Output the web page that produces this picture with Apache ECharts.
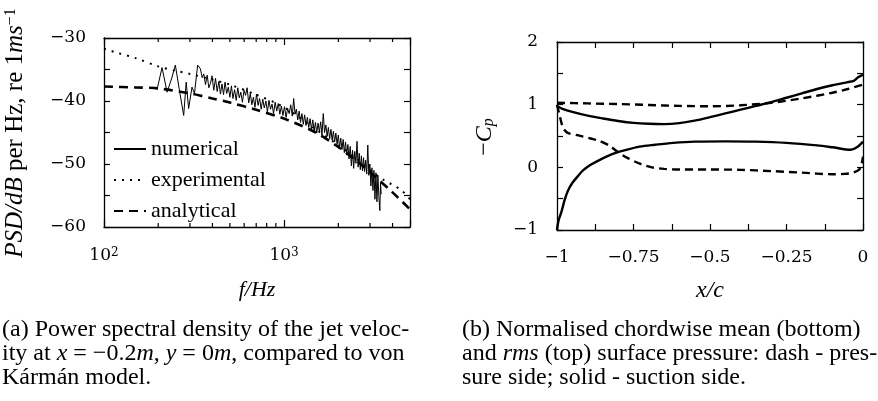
<!DOCTYPE html>
<html>
<head>
<meta charset="utf-8">
<script src="https://cdn.jsdelivr.net/npm/echarts@6/dist/echarts.min.js"></script>
<style>
html, body { margin: 0; padding: 0; background: #fff; }
#chart { width: 878px; height: 401px; }
</style>
</head>
<body>
<div id="chart"></div>
<script>
// ---------- Panel (a): PSD of the jet velocity, [frequency Hz, dB] ----------
const numerical = [
  [197,-38.2],[210,-34.7],[224,-38.6],[237,-36.5],[249,-34.3],[263,-38.5],[277,-42.3],[286,-37.0],
  [295,-41.2],[308,-37.8],[318,-38.8],[331,-34.3],[343,-34.9],[351,-36.3],[358,-35.7],[366,-37.4],
  [374,-35.9],[382,-37.9],[390,-37.2],[398,-36.0],[407,-38.3],[416,-36.4],[425,-38.5],[434,-36.9],
  [443,-38.9],[452,-37.3],[461,-39.0],[470,-37.0],[480,-38.8],[490,-37.8],[500,-39.4],[510,-37.6],
  [520,-39.6],[531,-38.2],[542,-39.9],[553,-37.9],[564,-39.5],[575,-38.6],[587,-40.2],[599,-38.3],
  [611,-39.1],[623,-37.9],[636,-40.3],[649,-38.8],[662,-40.6],[675,-39.4],[689,-41.0],[703,-38.9],
  [717,-40.7],[731,-39.6],[746,-41.3],[761,-39.7],[776,-41.1],[792,-40.0],[808,-41.7],[824,-39.9],
  [840,-41.3],[857,-40.5],[874,-42.0],[892,-40.2],[910,-41.6],[928,-40.4],[947,-42.1],[966,-40.8],
  [985,-42.3],[1005,-40.9],[1025,-42.6],[1046,-41.2],[1067,-42.0],[1088,-40.6],[1110,-42.4],[1130,-39.6],
  [1150,-42.1],[1170,-41.3],[1190,-43.0],[1212,-41.6],[1234,-43.4],[1256,-42.0],[1278,-43.7],[1300,-42.2],
  [1323,-43.9],[1346,-42.6],[1370,-44.2],[1394,-42.8],[1418,-44.5],[1443,-43.0],[1468,-44.8],[1493,-43.4],
  [1518,-45.1],[1544,-43.5],[1570,-44.9],[1596,-43.3],[1623,-45.4],[1650,-42.0],[1677,-45.0],[1705,-43.8],
  [1733,-45.6],[1761,-44.2],[1790,-46.0],[1819,-44.5],[1848,-46.2],[1878,-44.8],[1908,-46.5],[1938,-45.1],
  [1969,-46.9],[2000,-45.4],[2031,-47.4],[2063,-45.9],[2095,-47.7],[2127,-46.1],[2160,-48.2],[2193,-46.5],
  [2226,-48.6],[2260,-46.9],[2294,-49.2],[2328,-47.2],[2363,-50.3],[2398,-47.8],[2433,-50.7],[2468,-48.0],
  [2504,-49.9],[2540,-46.4],[2576,-50.5],[2612,-48.3],[2649,-50.9],[2686,-48.7],[2723,-51.1],[2761,-49.0],
  [2799,-51.2],[2837,-49.4],[2876,-51.6],[2915,-47.0],[2954,-51.8],[2993,-50.0],[3033,-53.5],[3073,-50.6],
  [3113,-54.2],[3153,-51.0],[3194,-55.6],[3235,-51.4],[3276,-56.0],[3317,-51.8],[3358,-55.2],[3400,-57.4],
  [3430,-53.0],[3460,-54.8]
];
const experimental = [
  [100,-31.7],[120,-32.4],[150,-33.2],[200,-34.5],[250,-35.2],[300,-35.7],[400,-36.6],[500,-37.4],
  [700,-39.0],[1000,-41.0],[1500,-44.5],[2000,-47.0],[2500,-49.0],[3000,-51.0],[3600,-52.6],[4000,-53.3],
  [4500,-54.2],[5000,-55.6]
];
const analytical = [
  [100,-37.7],[150,-37.85],[200,-38.0],[300,-38.8],[400,-39.6],[500,-40.25],[700,-41.4],[1000,-42.8],
  [1500,-45.0],[2000,-47.3],[2500,-49.4],[3000,-51.3],[4000,-54.5],[5000,-57.2]
];
const freqRange = [100, 5000];
const psdRange = [-60, -30];
const decadeLabels = { 100: '{n|10}{s|2}', 1000: '{n|10}{s|3}' };
const minorFreqTicks = [200,300,400,500,600,700,800,900,2000,3000,4000];

// ---------- Panel (b): surface pressure coefficient, [x/c, -Cp] ----------
const suctionRms = [
  [-1,0.98],[-0.98,0.93],[-0.95,0.885],[-0.9,0.825],[-0.85,0.78],[-0.8,0.74],[-0.75,0.71],[-0.7,0.695],
  [-0.65,0.69],[-0.6,0.705],[-0.55,0.745],[-0.5,0.80],[-0.45,0.86],[-0.4,0.92],[-0.35,0.98],[-0.3,1.04],
  [-0.25,1.11],[-0.2,1.18],[-0.15,1.25],[-0.1,1.31],[-0.05,1.36],[-0.03,1.38],[-0.015,1.44],[0,1.48]
];
const pressureRms = [
  [-1,1.03],[-0.9,1.02],[-0.8,1.01],[-0.7,0.995],[-0.6,0.98],[-0.5,0.975],[-0.4,0.99],[-0.3,1.03],
  [-0.2,1.1],[-0.1,1.19],[-0.05,1.25],[0,1.32]
];
const suctionMean = [
  [-1,-1],[-0.995,-0.85],[-0.986,-0.72],[-0.975,-0.52],[-0.965,-0.38],[-0.95,-0.25],[-0.93,-0.13],
  [-0.915,-0.05],[-0.89,0.04],[-0.86,0.12],[-0.82,0.21],[-0.78,0.27],[-0.73,0.33],[-0.68,0.36],
  [-0.62,0.39],[-0.55,0.41],[-0.45,0.415],[-0.35,0.41],[-0.25,0.39],[-0.15,0.35],[-0.1,0.32],
  [-0.04,0.28],[-0.02,0.32],[0,0.41]
];
const pressureMean = [
  [-1,1.0],[-0.99,0.8],[-0.98,0.63],[-0.965,0.55],[-0.93,0.51],[-0.89,0.46],[-0.86,0.42],[-0.83,0.35],
  [-0.8,0.24],[-0.77,0.15],[-0.73,0.06],[-0.69,0.0],[-0.65,-0.025],[-0.6,-0.035],[-0.5,-0.035],
  [-0.4,-0.04],[-0.3,-0.06],[-0.2,-0.085],[-0.1,-0.11],[-0.06,-0.105],[-0.03,-0.08],[-0.01,-0.02],[0,0.17]
];
const chordRange = [-1, 0];
const cpRange = [-1, 2];

// ---------- styling ----------
const FONT = 'Liberation Serif';
const TICK_FONT = 'DejaVu Serif';
const INK = '#000';
const minus = v => String(v).replace('-', '\u2212');

function frameAxis(extra) {
  return Object.assign({
    axisLine: { show: true, onZero: false, lineStyle: { color: INK, width: 1.3 } },
    axisTick: { show: true, inside: true, length: 6, lineStyle: { color: INK, width: 1.2 } },
    splitLine: { show: false },
    axisLabel: { show: false }
  }, extra);
}
const tickFont = { color: INK, fontFamily: TICK_FONT, fontSize: 17 };

// minor ticks on the logarithmic frequency axis, drawn top and bottom
function logMinorTick(params, api) {
  const f = api.value(0);
  const b = api.coord([f, psdRange[0]]);
  const t = api.coord([f, psdRange[1]]);
  const st = { stroke: INK, lineWidth: 1.2 };
  return {
    type: 'group',
    children: [
      { type: 'line', shape: { x1: b[0], y1: b[1], x2: b[0], y2: b[1] - 4 }, style: st },
      { type: 'line', shape: { x1: t[0], y1: t[1], x2: t[0], y2: t[1] + 4 }, style: st }
    ]
  };
}

const chart = echarts.init(document.getElementById('chart'), null, { renderer: 'canvas' });

chart.setOption({
  animation: false,
  backgroundColor: '#fff',
  grid: [
    { left: 104, top: 38, width: 306, height: 189, containLabel: false },
    { left: 557, top: 42, width: 306, height: 188, containLabel: false }
  ],
  xAxis: [
    frameAxis({
      gridIndex: 0, type: 'log', logBase: 10, position: 'bottom',
      min: freqRange[0], max: freqRange[1],
      axisTick: { show: true, inside: true, length: 7, lineStyle: { color: INK, width: 1.2 } },
      axisLabel: Object.assign({
        show: true, margin: 20,
        formatter: v => decadeLabels[Math.round(v)] || '',
        rich: {
          n: { fontFamily: TICK_FONT, fontSize: 17, color: INK },
          s: { fontFamily: TICK_FONT, fontSize: 12, color: INK, verticalAlign: 'top' }
        }
      }, tickFont)
    }),
    frameAxis({
      gridIndex: 0, type: 'log', logBase: 10, position: 'top',
      min: freqRange[0], max: freqRange[1],
      axisTick: { show: true, inside: true, length: 7, lineStyle: { color: INK, width: 1.2 } }
    }),
    frameAxis({
      gridIndex: 1, type: 'value', position: 'bottom',
      min: chordRange[0], max: chordRange[1], interval: 0.125,
      axisLabel: Object.assign({
        show: true, margin: 19,
        formatter: v => (Math.abs(v * 4 - Math.round(v * 4)) < 1e-6 ? minus(v) : '')
      }, tickFont)
    }),
    frameAxis({
      gridIndex: 1, type: 'value', position: 'top',
      min: chordRange[0], max: chordRange[1], interval: 0.125
    })
  ],
  yAxis: [
    frameAxis({
      gridIndex: 0, type: 'value', position: 'left',
      min: psdRange[0], max: psdRange[1], interval: 5,
      axisLabel: Object.assign({ show: true, margin: 18, formatter: v => (v % 10 === 0 ? minus(v) : '') }, tickFont)
    }),
    frameAxis({
      gridIndex: 0, type: 'value', position: 'right',
      min: psdRange[0], max: psdRange[1], interval: 5
    }),
    frameAxis({
      gridIndex: 1, type: 'value', position: 'left',
      min: cpRange[0], max: cpRange[1], interval: 0.5,
      axisLabel: Object.assign({ show: true, margin: 19, formatter: v => (Number.isInteger(v) ? minus(v) : '') }, tickFont)
    }),
    frameAxis({
      gridIndex: 1, type: 'value', position: 'right',
      min: cpRange[0], max: cpRange[1], interval: 0.5
    })
  ],
  legend: {
    orient: 'vertical', left: 108, top: 133,
    itemWidth: 32, itemHeight: 14, itemGap: 9,
    itemStyle: { opacity: 0 },
    textStyle: { color: INK, fontFamily: FONT, fontSize: 22, lineHeight: 22 },
    data: ['numerical', 'experimental', 'analytical']
  },
  series: [
    {
      name: 'analytical', type: 'line', xAxisIndex: 0, yAxisIndex: 0, data: analytical,
      showSymbol: false, symbol: 'none', smooth: 0.3,
      lineStyle: { color: INK, width: 2.6, type: [9, 6] }, itemStyle: { color: INK }
    },
    {
      name: 'experimental', type: 'line', xAxisIndex: 0, yAxisIndex: 0, data: experimental,
      showSymbol: false, symbol: 'none', smooth: 0.3,
      lineStyle: { color: INK, width: 2, type: [2, 6] }, itemStyle: { color: INK }
    },
    {
      name: 'numerical', type: 'line', xAxisIndex: 0, yAxisIndex: 0, data: numerical,
      showSymbol: false, symbol: 'none',
      lineStyle: { color: INK, width: 1 }, itemStyle: { color: INK }
    },
    {
      type: 'custom', xAxisIndex: 0, yAxisIndex: 0, silent: true,
      data: minorFreqTicks.map(f => [f, psdRange[0]]),
      renderItem: logMinorTick
    },
    {
      type: 'line', xAxisIndex: 2, yAxisIndex: 2, data: suctionRms,
      showSymbol: false, symbol: 'none', smooth: 0.3,
      lineStyle: { color: INK, width: 2.4 }
    },
    {
      type: 'line', xAxisIndex: 2, yAxisIndex: 2, data: suctionMean,
      showSymbol: false, symbol: 'none', smooth: 0.3,
      lineStyle: { color: INK, width: 2.4 }
    },
    {
      type: 'line', xAxisIndex: 2, yAxisIndex: 2, data: pressureRms,
      showSymbol: false, symbol: 'none', smooth: 0.3,
      lineStyle: { color: INK, width: 2.4, type: [8, 5] }
    },
    {
      type: 'line', xAxisIndex: 2, yAxisIndex: 2, data: pressureMean,
      showSymbol: false, symbol: 'none', smooth: 0.3,
      lineStyle: { color: INK, width: 2.4, type: [8, 5] }
    }
  ],
  graphic: [
    {
      type: 'text', x: 15, y: 133, rotation: Math.PI / 2,
      style: {
        text: '{i|PSD/dB} per Hz, re 1{i|ms}{s|\u22121}',
        fontFamily: FONT, fontSize: 25, fill: INK, align: 'center', verticalAlign: 'middle',
        rich: {
          i: { fontFamily: FONT, fontSize: 25, fontStyle: 'italic' },
          s: { fontFamily: FONT, fontSize: 16, verticalAlign: 'top' }
        }
      }
    },
    {
      type: 'text', x: 257, y: 290,
      style: { text: 'f/Hz', fontFamily: FONT, fontSize: 22, fontStyle: 'italic', fill: INK, align: 'center', verticalAlign: 'middle' }
    },
    {
      type: 'text', x: 485, y: 137, rotation: Math.PI / 2,
      style: {
        text: '\u2212{i|C}{b|p}',
        fontFamily: FONT, fontSize: 24, fill: INK, align: 'center', verticalAlign: 'middle',
        rich: {
          i: { fontFamily: FONT, fontSize: 24, fontStyle: 'italic' },
          b: { fontFamily: FONT, fontSize: 16, fontStyle: 'italic', verticalAlign: 'bottom' }
        }
      }
    },
    {
      type: 'text', x: 710, y: 291,
      style: { text: 'x/c', fontFamily: FONT, fontSize: 24, fontStyle: 'italic', fill: INK, align: 'center', verticalAlign: 'middle' }
    },
    {
      type: 'text', x: 2, y: 318,
      style: {
        text: '(a) Power spectral density of the jet veloc-\nity at {i|x} = \u22120.2{i|m}, {i|y} = 0{i|m}, compared to von\nKármán model.',
        fontFamily: FONT, fontSize: 24, lineHeight: 24, fill: INK, align: 'left', verticalAlign: 'top',
        rich: { i: { fontFamily: FONT, fontSize: 24, lineHeight: 24, fontStyle: 'italic' } }
      }
    },
    {
      type: 'text', x: 462, y: 318,
      style: {
        text: '(b) Normalised chordwise mean (bottom)\nand {i|rms} (top) surface pressure: dash - pres-\nsure side; solid - suction side.',
        fontFamily: FONT, fontSize: 24, lineHeight: 24, fill: INK, align: 'left', verticalAlign: 'top',
        rich: { i: { fontFamily: FONT, fontSize: 24, lineHeight: 24, fontStyle: 'italic' } }
      }
    }
  ]
});
</script>
</body>
</html>
